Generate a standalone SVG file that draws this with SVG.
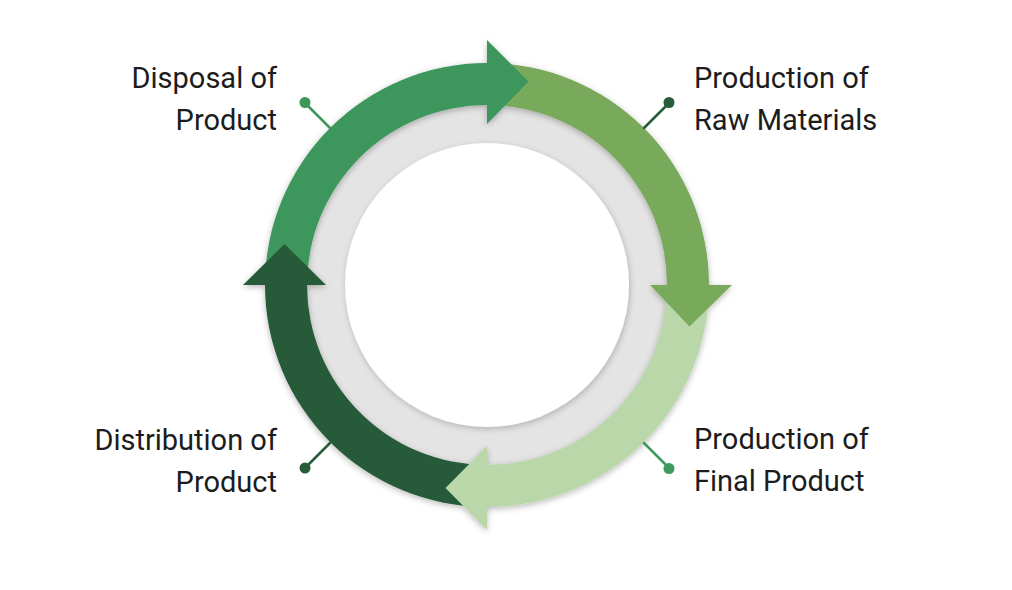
<svg xmlns="http://www.w3.org/2000/svg" width="1012" height="590" viewBox="0 0 1012 590">
  <style>
    .label { font-family: Roboto, "Liberation Sans", sans-serif; font-size: 29px; fill: #1c1c1c; }
    .end { text-anchor: end; }
    .lead { stroke-width: 2.5; stroke-linecap: round; fill: none; }
  </style>
  <defs>
    <filter id="shadow" x="-20%" y="-20%" width="140%" height="140%">
      <feDropShadow dx="0" dy="2" stdDeviation="3" flood-color="#000" flood-opacity="0.28"/>
    </filter>
    <filter id="softshadow" x="-20%" y="-20%" width="140%" height="140%">
      <feDropShadow dx="1" dy="2" stdDeviation="3" flood-color="#000" flood-opacity="0.22"/>
    </filter>
  </defs>
  <rect width="1012" height="590" fill="#ffffff"/>

  <g id="hub">
    <circle cx="487" cy="285" r="181" fill="#e4e4e4"/>
    <circle cx="487" cy="285" r="142" fill="#ffffff" filter="url(#softshadow)"/>
  </g>

  <g id="cycle" filter="url(#shadow)">
    <path id="band-disposal" d="M 265 285 A 222 222 0 0 1 487 63 L 487 105 A 180 180 0 0 0 307 285 Z" fill="#3e965b"/>
    <path id="band-raw" d="M 487 63 A 222 222 0 0 1 709 285 L 667 285 A 180 180 0 0 0 487 105 Z" fill="#79aa5b"/>
    <path id="band-final" d="M 709 285 A 222 222 0 0 1 487 507 L 487 465 A 180 180 0 0 0 667 285 Z" fill="#b9d7a9"/>
    <path id="band-distribution" d="M 487 507 A 222 222 0 0 1 265 285 L 307 285 A 180 180 0 0 0 487 465 Z" fill="#255a37"/>
    <path id="head-disposal" d="M 487 124 L 487 40 L 528.5 81.5 Z" fill="#3e965b"/>
    <path id="head-raw" d="M 650 285 L 732 285 L 689.5 326.5 Z" fill="#79aa5b"/>
    <path id="head-final" d="M 487 446 L 487 530 L 445.5 488 Z" fill="#b9d7a9"/>
    <path id="head-distribution" d="M 326 285 L 243 285 L 284.5 244 Z" fill="#255a37"/>
  </g>

  <g id="connectors">
    <g id="lead-disposal">
      <line class="lead" x1="330" y1="128" x2="305" y2="103" stroke="#3e965b"/>
      <circle cx="305" cy="102.5" r="5.5" fill="#3e965b"/>
    </g>
    <g id="lead-raw">
      <line class="lead" x1="644" y1="128" x2="669" y2="103" stroke="#275c3a"/>
      <circle cx="669" cy="102.5" r="5.5" fill="#275c3a"/>
    </g>
    <g id="lead-final">
      <line class="lead" x1="644" y1="443" x2="669" y2="468" stroke="#3e9a5c"/>
      <circle cx="669" cy="468.5" r="5.5" fill="#3e9a5c"/>
    </g>
    <g id="lead-distribution">
      <line class="lead" x1="330" y1="443" x2="305" y2="468" stroke="#275c3a"/>
      <circle cx="305" cy="468" r="5.5" fill="#275c3a"/>
    </g>
  </g>

  <g id="node-disposal">
    <text class="label end" x="277" y="88">Disposal of</text>
    <text class="label end" x="277" y="130">Product</text>
  </g>
  <g id="node-raw">
    <text class="label" x="694" y="88">Production of</text>
    <text class="label" x="694" y="130">Raw Materials</text>
  </g>
  <g id="node-final">
    <text class="label" x="694" y="449">Production of</text>
    <text class="label" x="694" y="491">Final Product</text>
  </g>
  <g id="node-distribution">
    <text class="label end" x="277" y="450">Distribution of</text>
    <text class="label end" x="277" y="492">Product</text>
  </g>
</svg>
